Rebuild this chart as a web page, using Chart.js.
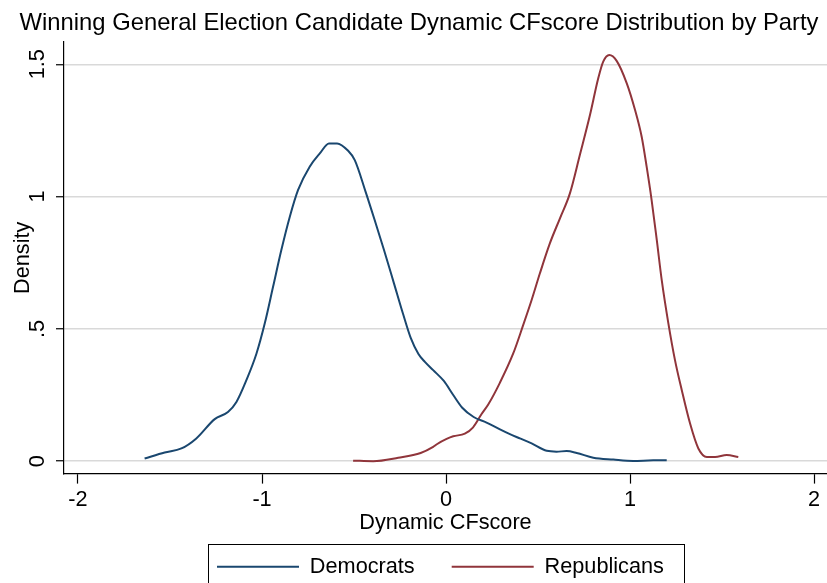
<!DOCTYPE html>
<html>
<head>
<meta charset="utf-8">
<title>Dynamic CFscore Distribution by Party</title>
<script src="https://cdn.jsdelivr.net/npm/chart.js@4/dist/chart.umd.min.js"></script>
<style>
  html, body { margin: 0; padding: 0; background: #ffffff; }
  #wrap { width: 827px; height: 583px; }
</style>
</head>
<body>
<div id="wrap"><canvas id="c" width="827" height="583"></canvas></div>
<script>
// Kernel density estimates of winning candidates' dynamic CFscores
const demX = [-1.638, -1.529, -1.438, -1.357, -1.257, -1.185, -1.139, -1.085, -1.030, -0.985,
              -0.940, -0.895, -0.849, -0.804, -0.741, -0.686, -0.636, -0.592, -0.532, -0.496,
              -0.437, -0.385, -0.338, -0.283, -0.233, -0.192, -0.150, -0.115, -0.070, -0.012,
               0.039,  0.088,  0.150,  0.220,  0.293,  0.347,  0.405,  0.465,  0.547,  0.600,
               0.655,  0.710,  0.800,  0.909,  1.017,  1.126,  1.199];
const demY = [ 0.010,  0.033,  0.048,  0.086,  0.159,  0.186,  0.224,  0.306,  0.407,  0.521,
               0.659,  0.798,  0.924,  1.025,  1.113,  1.163,  1.201,  1.201,  1.173,  1.138,
               1.018,  0.905,  0.800,  0.672,  0.555,  0.466,  0.405,  0.375,  0.344,  0.303,
               0.250,  0.202,  0.167,  0.146,  0.120,  0.102,  0.085,  0.067,  0.039,  0.036,
               0.038,  0.031,  0.013,  0.006,  0.001,  0.003,  0.003];

const repX = [-0.505, -0.396, -0.260, -0.138, -0.070, -0.050,  0.003,  0.039,  0.102,  0.147,
               0.193,  0.230,  0.293,  0.365,  0.419,  0.465,  0.510,  0.564,  0.619,  0.673,
               0.727,  0.782,  0.827,  0.854,  0.887,  0.927,  0.982,  1.027,  1.063,  1.090,
               1.117,  1.145,  1.172,  1.208,  1.244,  1.281,  1.326,  1.371,  1.417,  1.462,
               1.525,  1.588];
const repY = [ 0.002,  0.000,  0.013,  0.031,  0.054,  0.064,  0.084,  0.094,  0.104,  0.128,
               0.178,  0.215,  0.297,  0.407,  0.514,  0.609,  0.710,  0.823,  0.918,  1.012,
               1.157,  1.308,  1.447,  1.510,  1.535,  1.513,  1.428,  1.327,  1.226,  1.113,
               0.987,  0.836,  0.684,  0.521,  0.382,  0.268,  0.142,  0.048,  0.016,  0.016,
               0.023,  0.016];

const seriesNames = ['Democrats', 'Republicans'];
const xTickValues = [-2, -1, 0, 1, 2];
const xTickLabels = ['-2', '-1', '0', '1', '2'];
const yTickValues = [0, 0.5, 1, 1.5];
const yTickLabels = ['0', '.5', '1', '1.5'];

const FONT = '"Liberation Sans", Arial, Helvetica, sans-serif';
const SIZE = 21.7;
const BLUE = '#1a476f';
const RED = '#90353b';

function toPoints(xs, ys) {
  return xs.map((x, i) => ({ x: x, y: ys[i] }));
}
function labelFor(values, labels) {
  return function (v) {
    const i = values.findIndex(t => Math.abs(t - v) < 1e-9);
    return i >= 0 ? labels[i] : '';
  };
}

// Centres the title over the plot, places the legend row and frames it with a box
const legendFrame = {
  id: 'legendFrame',
  afterLayout(chart) {
    const tb = chart.titleBlock;
    if (tb) { tb.left += 11; }
    const lg = chart.legend;
    const pad = lg.options.labels.padding;
    const rowStart = 217;
    lg.right = 827;
    lg.left = 2 * rowStart - pad - lg.right + lg.lineWidths[0];
    lg.top = 519;
  },
  afterDraw(chart) {
    const hb = chart.legend.legendHitBoxes;
    if (!hb || !hb.length) return;
    const ctx = chart.ctx;
    const first = hb[0], last = hb[hb.length - 1];
    const left = first.left - 9;
    const right = last.left + last.width + 20;
    ctx.save();
    ctx.strokeStyle = '#000000';
    ctx.lineWidth = 1;
    ctx.strokeRect(Math.round(left) + 0.5, 544.5, Math.round(right - left), 60);
    ctx.restore();
  }
};

new Chart(document.getElementById('c'), {
  type: 'line',
  data: {
    datasets: [
      { label: seriesNames[0], data: toPoints(demX, demY), borderColor: BLUE, backgroundColor: BLUE,
        borderWidth: 2, pointRadius: 0, cubicInterpolationMode: 'monotone', fill: false },
      { label: seriesNames[1], data: toPoints(repX, repY), borderColor: RED, backgroundColor: RED,
        borderWidth: 2, pointRadius: 0, cubicInterpolationMode: 'monotone', fill: false }
    ]
  },
  options: {
    responsive: false,
    animation: false,
    devicePixelRatio: 1,
    layout: { padding: { left: 0, right: 0, top: 0, bottom: 0 } },
    plugins: {
      title: {
        display: true,
        text: 'Winning General Election Candidate Dynamic CFscore Distribution by Party',
        color: '#000000',
        font: { family: FONT, size: 23.8, weight: 'normal' },
        padding: { top: 9, bottom: 4.5 }
      },
      legend: {
        position: 'bottom',
        maxHeight: 36,
        labels: {
          usePointStyle: true,
          pointStyle: 'line',
          pointStyleWidth: 82,
          padding: 37,
          color: '#000000',
          font: { family: FONT, size: SIZE }
        }
      },
      tooltip: { enabled: false }
    },
    scales: {
      x: {
        type: 'linear',
        min: -2.076,
        max: 2.07,
        border: { display: true, color: '#000000', width: 1.2 },
        grid: { drawOnChartArea: false, drawTicks: true, tickLength: 10, tickColor: '#000000', tickWidth: 1.2 },
        ticks: { stepSize: 1, includeBounds: false, color: '#000000', padding: 5.5,
                 font: { family: FONT, size: SIZE, lineHeight: 1 }, callback: labelFor(xTickValues, xTickLabels) },
        title: { display: true, text: 'Dynamic CFscore', color: '#000000',
                 font: { family: FONT, size: SIZE, lineHeight: 1 }, padding: { top: -4, bottom: 13 } }
      },
      y: {
        type: 'linear',
        min: -0.047,
        max: 1.584,
        border: { display: true, color: '#000000', width: 1.2 },
        grid: { color: '#d9d9d9', lineWidth: 1.5, drawTicks: true, tickLength: 8,
                tickColor: '#000000', tickWidth: 1.2 },
        ticks: { stepSize: 0.5, includeBounds: false, minRotation: 90, maxRotation: 90,
                 crossAlign: 'center', padding: 3, color: '#000000',
                 font: { family: FONT, size: SIZE }, callback: labelFor(yTickValues, yTickLabels) },
        title: { display: true, text: 'Density', color: '#000000',
                 font: { family: FONT, size: SIZE }, padding: { top: 10, bottom: 0 } },
        afterFit(scale) { scale.width = 64; }
      }
    }
  },
  plugins: [legendFrame]
});
</script>
</body>
</html>
